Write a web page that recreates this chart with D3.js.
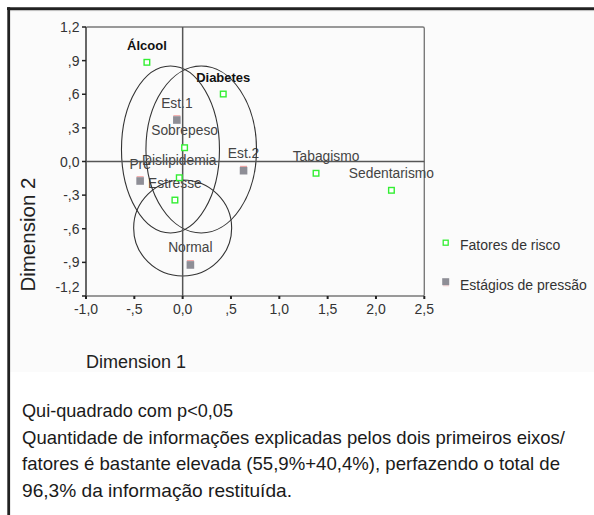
<!DOCTYPE html>
<html><head><meta charset="utf-8">
<script src="https://cdn.jsdelivr.net/npm/d3@7"></script>
<style>
html,body{margin:0;padding:0;background:#fff;}
svg{display:block;}
text{font-family:"Liberation Sans",Arial,Helvetica,sans-serif;}
</style></head>
<body>
<svg id="chart" width="594" height="515"></svg>
<script>
// ---- data ----
const riskNames = ["Álcool","Diabetes","Sobrepeso","Dislipidemia","Estresse","Tabagismo","Sedentarismo"];
const riskX = [-0.37, 0.42, 0.02, -0.035, -0.08, 1.38, 2.16];
const riskY = [0.885, 0.602, 0.123, -0.145, -0.344, -0.105, -0.257];

const stageNames = ["Est.1","Est.2","Pré","Normal"];
const stageX = [-0.06, 0.63, -0.44, 0.08];
const stageY = [0.37, -0.082, -0.174, -0.923];

// grouping ellipses (data units): centre x, centre y, radius x, radius y
const ellipseCX = [-0.126, 0.192, 0.0];
const ellipseCY = [0.107, 0.107, -0.593];
const ellipseRX = [0.507, 0.572, 0.507];
const ellipseRY = [0.745, 0.745, 0.428];

const xTicks = [-1.0, -0.5, 0.0, 0.5, 1.0, 1.5, 2.0, 2.5];
const xTickLabels = ["-1,0", "-,5", "0,0", ",5", "1,0", "1,5", "2,0", "2,5"];
const yTicks = [1.2, 0.9, 0.6, 0.3, 0.0, -0.3, -0.6, -0.9, -1.2];
const yTickLabels = ["1,2", ",9", ",6", ",3", "0,0", "-,3", "-,6", "-,9", "-1,2"];

const legendLabels = ["Fatores de risco", "Estágios de pressão"];
const xTitle = "Dimension 1";
const yTitle = "Dimension 2";
const noteLines = [
  "Qui-quadrado com p<0,05",
  "Quantidade de informações explicadas pelos dois primeiros eixos/",
  "fatores é bastante elevada (55,9%+40,4%), perfazendo o total de",
  "96,3% da informação restituída."
];

// ---- layout ----
const svg = d3.select("#chart");
const x = d3.scaleLinear().domain([-1, 2.5]).range([86, 424.3]);
const y = d3.scaleLinear().domain([-1.2, 1.2]).range([296, 27]);

// light chart background
svg.append("rect").attr("x", 10).attr("y", 10).attr("width", 584).attr("height", 362).attr("fill", "#fbfbfb");

// outer border (top and left)
svg.append("line").attr("x1", 7).attr("x2", 594).attr("y1", 8.7).attr("y2", 8.7).attr("stroke", "#222").attr("stroke-width", 2.8);
svg.append("line").attr("x1", 594).attr("x2", 10).attr("y1", 10.6).attr("y2", 10.6).attr("stroke", "#bbb").attr("stroke-width", 1);
svg.append("line").attr("x1", 8.7).attr("x2", 8.7).attr("y1", 7.3).attr("y2", 515).attr("stroke", "#222").attr("stroke-width", 2.8);

// plot frame
svg.append("rect")
  .attr("x", x(-1)).attr("y", y(1.2))
  .attr("width", x(2.5) - x(-1)).attr("height", y(-1.2) - y(1.2))
  .attr("fill", "none").attr("stroke", "#7a7a7a").attr("stroke-width", 1.4).attr("rx", 1.5);
svg.append("line").attr("x1", x(-1)).attr("x2", x(-1)).attr("y1", y(1.2)).attr("y2", y(-1.2))
  .attr("stroke", "#555").attr("stroke-width", 1.5);

// y ticks
svg.append("g").selectAll("line").data(yTicks).join("line")
  .attr("x1", x(-1) - 4).attr("x2", x(-1)).attr("y1", d => y(d)).attr("y2", d => y(d))
  .attr("stroke", "#222").attr("stroke-width", 1.5);
svg.append("g").selectAll("text").data(yTicks).join("text")
  .attr("x", 79.5).attr("y", (d, i) => y(d) + (i === yTicks.length - 1 ? -9 : 0))
  .attr("text-anchor", "end").attr("dominant-baseline", "central")
  .attr("font-size", 14).attr("fill", "#333")
  .text((d, i) => yTickLabels[i]);

// x ticks
svg.append("g").selectAll("rect").data(xTicks).join("rect")
  .attr("x", d => x(d) - 1).attr("y", y(-1.2)).attr("width", 2).attr("height", 3)
  .attr("fill", "#222");
svg.append("g").selectAll("text").data(xTicks).join("text")
  .attr("x", d => x(d)).attr("y", 309)
  .attr("text-anchor", "middle").attr("dominant-baseline", "central")
  .attr("font-size", 14).attr("fill", "#333")
  .text((d, i) => xTickLabels[i]);

// point labels
const labelDx = {"Tabagismo": 10};
const boldLabels = new Set(["Álcool", "Diabetes"]);
const labelData = riskNames.map((n, i) => ({name: n, x: riskX[i], y: riskY[i]}))
  .concat(stageNames.map((n, i) => ({name: n, x: stageX[i], y: stageY[i]})));
svg.append("g").selectAll("text").data(labelData).join("text")
  .attr("x", d => x(d.x) + (labelDx[d.name] || 0))
  .attr("y", d => y(d.y) - 17)
  .attr("text-anchor", "middle").attr("dominant-baseline", "central")
  .attr("font-size", d => boldLabels.has(d.name) ? 13 : 13.8)
  .attr("font-weight", d => boldLabels.has(d.name) ? "bold" : "normal")
  .attr("fill", d => boldLabels.has(d.name) ? "#111" : "#444")
  .text(d => d.name);

// ellipses
svg.append("g").selectAll("ellipse").data(ellipseCX).join("ellipse")
  .attr("cx", (d, i) => x(d))
  .attr("cy", (d, i) => y(ellipseCY[i]))
  .attr("rx", (d, i) => x(d + ellipseRX[i]) - x(d))
  .attr("ry", (d, i) => y(ellipseCY[i]) - y(ellipseCY[i] + ellipseRY[i]))
  .attr("fill", "none").attr("stroke", "#333").attr("stroke-width", 1.1);

// reference lines at 0
svg.append("line").attr("x1", x(-1)).attr("x2", x(2.5)).attr("y1", y(0)).attr("y2", y(0))
  .attr("stroke", "#555").attr("stroke-width", 1.5);
svg.append("line").attr("x1", x(0)).attr("x2", x(0)).attr("y1", y(1.2)).attr("y2", y(-1.2))
  .attr("stroke", "#555").attr("stroke-width", 1.5);

// risk factor points (hollow green squares)
svg.append("g").selectAll("rect").data(riskX).join("rect")
  .attr("x", (d, i) => x(d) - 2.8).attr("y", (d, i) => y(riskY[i]) - 2.8)
  .attr("width", 5.6).attr("height", 5.6)
  .attr("fill", "#fff").attr("stroke", "#33ee33").attr("stroke-width", 1.4);

// stage points (filled gray squares with faint pink edge)
svg.append("g").selectAll("line").data(stageX).join("line")
  .attr("x1", (d, i) => x(d) - 3.5).attr("x2", (d, i) => x(d) + 3.5)
  .attr("y1", (d, i) => y(stageY[i]) - 4.3).attr("y2", (d, i) => y(stageY[i]) - 4.3)
  .attr("stroke", "#f3a6a6").attr("stroke-width", 1.2);
svg.append("g").selectAll("rect").data(stageX).join("rect")
  .attr("x", (d, i) => x(d) - 3.8).attr("y", (d, i) => y(stageY[i]) - 3.8)
  .attr("width", 7.6).attr("height", 7.6)
  .attr("fill", "#8e8e96");

// legend
const lg = svg.append("g");
lg.append("rect").attr("x", 443.2).attr("y", 240.2).attr("width", 5).attr("height", 5)
  .attr("fill", "#fff").attr("stroke", "#33ee33").attr("stroke-width", 1.3);
lg.append("line").attr("x1", 443).attr("x2", 449).attr("y1", 285.8).attr("y2", 285.8)
  .attr("stroke", "#f6c0c0").attr("stroke-width", 0.8);
lg.append("rect").attr("x", 442.2).attr("y", 278.2).attr("width", 7).attr("height", 7)
  .attr("fill", "#8e8e96");
lg.selectAll("text.lg").data(legendLabels).join("text")
  .attr("class", "lg")
  .attr("x", 460).attr("y", (d, i) => i === 0 ? 245 : 285)
  .attr("dominant-baseline", "central")
  .attr("font-size", 14).attr("fill", "#333")
  .text(d => d);

// axis titles
svg.append("text").attr("x", 86).attr("y", 368)
  .attr("font-size", 18).attr("fill", "#222").text(xTitle);
svg.append("text").attr("transform", "translate(34.5,234.5) rotate(-90)")
  .attr("text-anchor", "middle").attr("textLength", 114).attr("lengthAdjust", "spacingAndGlyphs")
  .attr("font-size", 19.5).attr("fill", "#222").text(yTitle);

// note text
const noteBaselines = [417, 443.5, 470, 497];
const noteWidths = [211, 543, 538, 270];
svg.append("g").selectAll("text").data(noteLines).join("text")
  .attr("x", 22).attr("y", (d, i) => noteBaselines[i])
  .attr("font-size", 19).attr("fill", "#1a1a1a")
  .attr("textLength", (d, i) => noteWidths[i]).attr("lengthAdjust", "spacingAndGlyphs")
  .text(d => d);
</script>
</body></html>
